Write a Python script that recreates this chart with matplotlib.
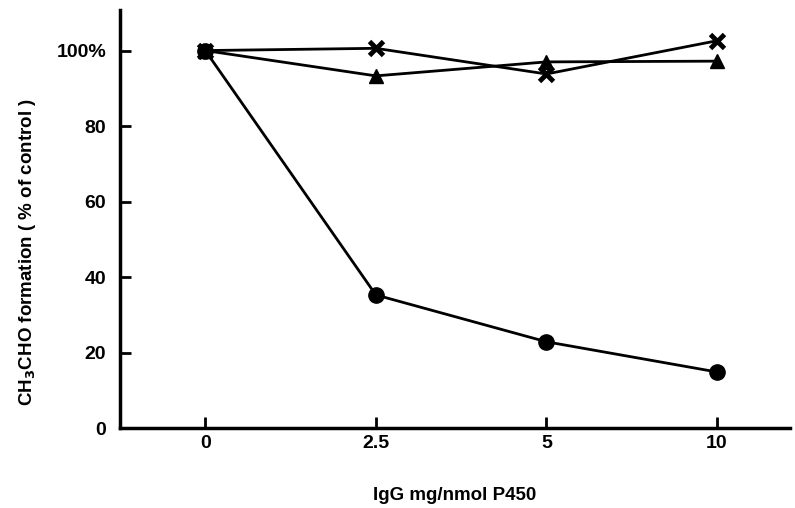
import matplotlib.pyplot as plt

# --- data -------------------------------------------------------------------
doses = ["0", "2.5", "5", "10"]          # IgG mg/nmol P450 (equally spaced)
circle_vals = [100, 35.3, 22.9, 14.9]
triangle_vals = [100, 93.3, 97.0, 97.2]
cross_vals = [100, 100.6, 93.8, 102.6]

ytick_vals = [0, 20, 40, 60, 80, 100]
ytick_labels = ["0", "20", "40", "60", "80", "100%"]

plt.rcParams["font.family"] = ["Liberation Sans", "DejaVu Sans"]
plt.rcParams["font.weight"] = "bold"

fig = plt.figure(figsize=(7.95, 5.08), dpi=100)
ax = fig.add_axes([0.151, 0.157, 0.843, 0.823])

xpos = list(range(len(doses)))
ax.plot(xpos, circle_vals, color="black", lw=2, marker="o", ms=11, zorder=3)
ax.plot(xpos, triangle_vals, color="black", lw=2, marker="^", ms=10, zorder=3)
ax.plot(xpos, cross_vals, color="black", lw=2, marker="x", ms=10, mew=3.5,
        zorder=4)

ax.set_xlim(-0.5, 3.43)
ax.set_ylim(0, 110.7)
ax.set_xticks(xpos)
ax.set_xticklabels(doses)
ax.set_yticks(ytick_vals)
ax.set_yticklabels(ytick_labels)

for s in ["top", "right"]:
    ax.spines[s].set_visible(False)
for s in ["left", "bottom"]:
    ax.spines[s].set_linewidth(2.5)

ax.tick_params(direction="in", length=8, width=2, labelsize=14, pad=10)
ax.tick_params(axis="x", pad=5)

# axis titles placed as in the reference (y title sits a bit low)
fig.text(0.035, 0.504, "CH$_3$CHO formation ( % of control )", fontsize=13.5,
         fontweight="bold", rotation=90, ha="center", va="center")
fig.text(0.572, 0.024, "IgG mg/nmol P450", fontsize=13.5, fontweight="bold",
         ha="center", va="center")

fig.savefig("out.png", dpi=100)
